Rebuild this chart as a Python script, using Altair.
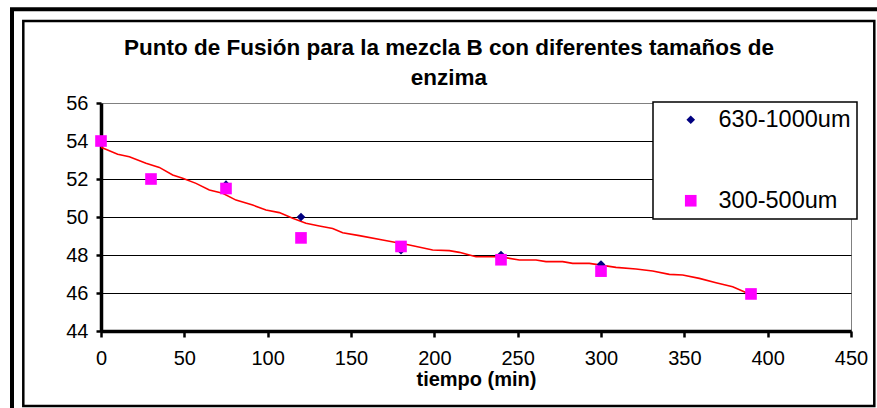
import altair as alt
import pandas as pd

# ---- data ----
series_names = ["630-1000um", "300-500um"]
tiempo = [0, 30, 75, 120, 180, 240, 300, 390]
serie_630_1000 = [54, 52, 51.7, 50, 48.25, 48, 47.5, 46]
serie_300_500 = [54, 52, 51.5, 48.9, 48.45, 47.75, 47.15, 45.95]

trend_x = [0, 10, 17, 27, 35, 43, 49, 57, 65, 73, 81, 91, 99, 107, 115, 123, 131, 139, 145, 155,
           169, 185, 199, 209, 215, 225, 239, 251, 261, 267, 277, 283, 293, 309, 321, 331, 341, 349,
           359, 369, 379, 389]
trend_y = [53.67, 53.30, 53.17, 52.83, 52.61, 52.21, 52.04, 51.77, 51.42, 51.25, 50.89, 50.63,
           50.37, 50.23, 49.93, 49.67, 49.53, 49.40, 49.17, 49.02, 48.79, 48.53, 48.26, 48.23,
           48.14, 47.91, 47.91, 47.74, 47.74, 47.65, 47.65, 47.56, 47.56, 47.35, 47.26, 47.16,
           46.98, 46.95, 46.77, 46.54, 46.33, 45.95]

x_ticks = [0, 50, 100, 150, 200, 250, 300, 350, 400, 450]
y_ticks = [44, 46, 48, 50, 52, 54, 56]

title_lines = ["Punto de Fusión para la mezcla B con diferentes tamaños de", "enzima"]
x_title = "tiempo (min)"

points = pd.DataFrame({
    "t": tiempo + tiempo,
    "v": serie_630_1000 + serie_300_500,
    "serie": [series_names[0]] * len(tiempo) + [series_names[1]] * len(tiempo),
})
trend = pd.DataFrame({"t": trend_x, "v": trend_y})
one = pd.DataFrame({"k": [0]})

FONT = "Liberation Sans"

xscale = alt.Scale(domain=[0, 450], nice=False)
yscale = alt.Scale(domain=[44, 56], nice=False)

x_axis = alt.Axis(values=x_ticks, tickCount=20, title=x_title, grid=False, domainColor="black",
                  domainWidth=3.5, tickColor="black", tickWidth=2.5, tickSize=6, labelFontSize=20,
                  labelPadding=11, labelColor="black", labelFont=FONT, titleFont=FONT,
                  titleFontSize=20, titleFontWeight="bold", titleColor="black", titlePadding=1,
                  labelFlush=False, labelOverlap=False)
y_axis = alt.Axis(values=y_ticks, tickCount=10, title=None, grid=True, labelOverlap=False,
                  gridColor={"condition": {"test": "datum.value == 56", "value": "#808080"}, "value": "black"},
                  gridWidth=1.2, domainColor="black", domainWidth=3.5, tickColor="black", tickWidth=2.5,
                  tickSize=5, labelFontSize=20, labelPadding=8, labelColor="black", labelFont=FONT)

legend = alt.Legend(title=None, orient="none", legendX=552, legendY=-1, fillColor="white",
                    strokeColor="black", padding=6, rowPadding=56,
                    symbolOffset=20, labelOffset=16, labelFontSize=23.5, labelFont=FONT,
                    labelColor="black", symbolStrokeWidth=0)

line = alt.Chart(trend).mark_line(color="#FF0000", strokeWidth=1.6).encode(
    x=alt.X("t:Q", scale=xscale, axis=x_axis),
    y=alt.Y("v:Q", scale=yscale, axis=y_axis),
)

pts = alt.Chart(points).mark_point(filled=True, opacity=1).encode(
    x=alt.X("t:Q", scale=xscale, axis=x_axis),
    y=alt.Y("v:Q", scale=yscale, axis=y_axis),
    color=alt.Color("serie:N", scale=alt.Scale(domain=series_names, range=["#000080", "#FF00FF"]),
                    legend=legend),
    shape=alt.Shape("serie:N", scale=alt.Scale(domain=series_names, range=["diamond", "square"]),
                    legend=legend),
    size=alt.Size("serie:N", scale=alt.Scale(domain=series_names, range=[75, 135]), legend=legend),
    order=alt.Order("serie:N", sort="descending"),
)

outer = alt.Chart(one).mark_rect(fill=None, stroke="black", strokeWidth=4).encode(
    x=alt.value(-89), x2=alt.value(800), y=alt.value(-93.7), y2=alt.value(330))
inner = alt.Chart(one).mark_rect(fill=None, stroke="black", strokeWidth=2.5).encode(
    x=alt.value(-77.7), x2=alt.value(773.3), y=alt.value(-82), y2=alt.value(303))

chart = alt.layer(line, pts, outer, inner).properties(
    width=750, height=228,
    autosize=alt.AutoSizeParams(type="none"),
    padding={"left": 101, "top": 103, "right": 26, "bottom": 77},
    background="white",
    title=alt.TitleParams(text=title_lines, fontSize=22.5, font=FONT, fontWeight="bold", color="black",
                          lineHeight=30, anchor="middle", dx=-27, offset=-99.7, baseline="alphabetic"),
).configure_view(stroke="#808080", strokeWidth=1).configure_legend(strokeWidth=1.5)

chart.save("out.html", embed_options={"renderer": "svg", "actions": False})
